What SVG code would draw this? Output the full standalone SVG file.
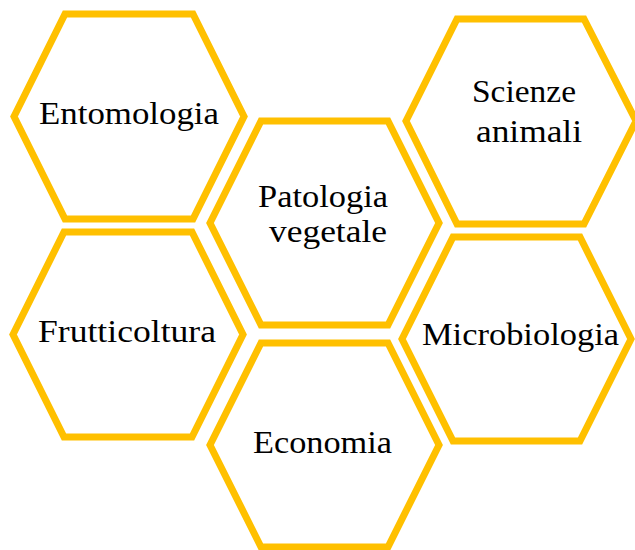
<svg xmlns="http://www.w3.org/2000/svg" width="635" height="550" viewBox="0 0 635 550">
<style>
.hex{fill:#FFFFFF;stroke:#FFC000;stroke-width:7;stroke-linejoin:miter}
.lbl{font-family:"Liberation Serif",serif;font-size:32px;fill:#000000}
</style>
<rect width="635" height="550" fill="#FFFFFF"/>
<g id="connectors"/>
<g id="node-entomologia">
<polygon class="hex" points="14,116.5 65,14 193,14 244,116.5 193,219 65,219"/>
<text class="lbl" x="39" y="124" textLength="180" lengthAdjust="spacingAndGlyphs">Entomologia</text>
</g>
<g id="node-patologia">
<polygon class="hex" points="210,223 261,121 388,121 439,223 388,325 261,325"/>
<text class="lbl" x="258" y="207" textLength="130" lengthAdjust="spacingAndGlyphs">Patologia</text>
<text class="lbl" x="269" y="242" textLength="118" lengthAdjust="spacingAndGlyphs">vegetale</text>
</g>
<g id="node-scienze">
<polygon class="hex" points="406,121 457,19 584,19 636,121 584,224 457,224"/>
<text class="lbl" x="472" y="102" textLength="104" lengthAdjust="spacingAndGlyphs">Scienze</text>
<text class="lbl" x="476" y="142" textLength="106" lengthAdjust="spacingAndGlyphs">animali</text>
</g>
<g id="node-frutticoltura">
<polygon class="hex" points="13,334.5 64,232 192,232 243,334.5 192,437 64,437"/>
<text class="lbl" x="38" y="342" textLength="178" lengthAdjust="spacingAndGlyphs">Frutticoltura</text>
</g>
<g id="node-microbiologia">
<polygon class="hex" points="402,339 453,237 580,237 631,339 580,441 453,441"/>
<text class="lbl" x="422" y="345" textLength="197" lengthAdjust="spacingAndGlyphs">Microbiologia</text>
</g>
<g id="node-economia">
<polygon class="hex" points="210,445 261,343 388,343 439,445 388,547 261,547"/>
<text class="lbl" x="253" y="453" textLength="139" lengthAdjust="spacingAndGlyphs">Economia</text>
</g>
</svg>
